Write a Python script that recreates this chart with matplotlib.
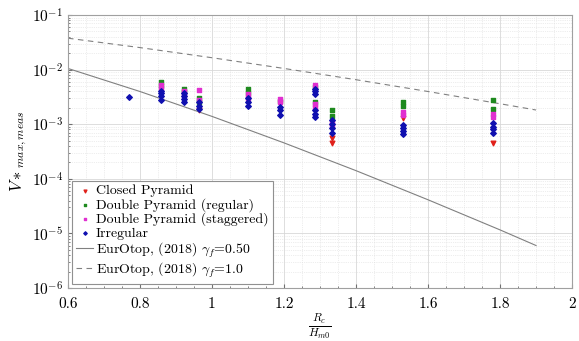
import numpy as np
import matplotlib
matplotlib.use("Agg")
import matplotlib.pyplot as plt
from matplotlib.ticker import FixedLocator, LogLocator, FuncFormatter, NullFormatter

plt.rcParams['font.family'] = 'serif'
plt.rcParams['font.serif'] = ['cmr10']
plt.rcParams['mathtext.fontset'] = 'cm'
plt.rcParams['axes.formatter.use_mathtext'] = True
plt.rcParams['axes.unicode_minus'] = False

# Measured data (Rc/Hm0, V*max,meas)
closed_x = [0.963, 1.333, 1.333, 1.53, 1.78]
closed_y = [1.8e-3, 5.6e-4, 4.6e-4, 1.3e-3, 4.6e-4]

regular_x = [0.857, 0.857, 0.923, 0.923, 0.963, 0.963, 1.1, 1.1, 1.19,
             1.286, 1.286, 1.333, 1.333, 1.53, 1.53, 1.78, 1.78]
regular_y = [6.0e-3, 5.0e-3, 4.5e-3, 3.9e-3, 3.0e-3, 2.6e-3, 4.5e-3, 3.8e-3, 2.7e-3,
             4.8e-3, 2.5e-3, 1.8e-3, 1.4e-3, 2.6e-3, 2.2e-3, 2.75e-3, 1.9e-3]

staggered_x = [0.857, 0.857, 0.923, 0.923, 0.963, 0.963, 1.1, 1.1, 1.19, 1.19,
               1.286, 1.286, 1.286, 1.333, 1.333, 1.53, 1.53, 1.78, 1.78]
staggered_y = [5.3e-3, 4.5e-3, 4.0e-3, 3.4e-3, 4.3e-3, 2.8e-3, 3.5e-3, 3.0e-3, 2.9e-3, 2.5e-3,
               5.2e-3, 2.3e-3, 2.1e-3, 1.1e-3, 9.5e-4, 1.7e-3, 1.5e-3, 1.55e-3, 1.35e-3]

irregular_x = [0.77, 0.857, 0.857, 0.857, 0.857, 0.923, 0.923, 0.923, 0.923,
               0.963, 0.963, 0.963, 1.1, 1.1, 1.1, 1.19, 1.19, 1.19,
               1.286, 1.286, 1.286, 1.286, 1.286, 1.286,
               1.333, 1.333, 1.333, 1.333, 1.53, 1.53, 1.53, 1.53,
               1.78, 1.78, 1.78, 1.78]
irregular_y = [3.1e-3, 2.8e-3, 3.3e-3, 3.7e-3, 4.1e-3, 2.5e-3, 2.9e-3, 3.3e-3, 3.7e-3,
               1.9e-3, 2.2e-3, 2.5e-3, 2.2e-3, 2.6e-3, 3.0e-3, 1.5e-3, 1.8e-3, 2.1e-3,
               1.35e-3, 1.55e-3, 1.8e-3, 3.5e-3, 4.0e-3, 4.5e-3,
               7.0e-4, 8.5e-4, 1.0e-3, 1.2e-3, 6.5e-4, 7.5e-4, 8.5e-4, 9.5e-4,
               7.0e-4, 8.0e-4, 9.0e-4, 1.05e-3]

# EurOtop (2018) curves
eur_x = [0.6, 0.8, 1.0, 1.2, 1.4, 1.6, 1.8, 1.9]
eur_050 = [1.05e-2, 3.97e-3, 1.39e-3, 4.55e-4, 1.41e-4, 4.13e-5, 1.16e-5, 6.0e-6]
eur_100 = [3.76e-2, 2.53e-2, 1.65e-2, 1.05e-2, 6.53e-3, 3.97e-3, 2.37e-3, 1.82e-3]

fig = plt.figure(figsize=(5.79, 3.41), dpi=100)
ax = fig.add_axes([0.1174, 0.1554, 0.8706, 0.8006])

ax.scatter(closed_x, closed_y, marker='v', s=11, color='#e0201a', label='Closed Pyramid', zorder=3)
ax.scatter(regular_x, regular_y, marker='s', s=9, color='#1f8a1f', label='Double Pyramid (regular)', zorder=3)
ax.scatter(staggered_x, staggered_y, marker='s', s=9, color='#e030d0', label='Double Pyramid (staggered)', zorder=3)
ax.scatter(irregular_x, irregular_y, marker='D', s=8, color='#1010b0', label='Irregular', zorder=4)
ax.plot(eur_x, eur_050, color='#808080', lw=0.8, label=r'EurOtop, (2018) $\gamma_f$=0.50')
ax.plot(eur_x, eur_100, color='#808080', lw=0.8, ls=(0, (5, 4)), label=r'EurOtop, (2018) $\gamma_f$=1.0')

ax.set_yscale('log')
ax.set_xlim(0.6, 2.0)
ax.set_ylim(1e-6, 1e-1)
ax.xaxis.set_major_locator(FixedLocator([0.6, 0.8, 1.0, 1.2, 1.4, 1.6, 1.8, 2.0]))
ax.xaxis.set_minor_locator(FixedLocator(np.arange(0.65, 2.0, 0.05)))
ax.xaxis.set_major_formatter(FuncFormatter(lambda v, p: f'{v:g}'))
ax.yaxis.set_major_locator(LogLocator(base=10, numticks=10))
ax.yaxis.set_minor_locator(LogLocator(base=10, subs=np.arange(2, 10), numticks=20))
ax.yaxis.set_minor_formatter(NullFormatter())

ax.grid(True, which='major', color='#d8d8d8', lw=0.6)
ax.grid(True, which='minor', color='#dcdcdc', lw=0.5, ls=':')
ax.set_axisbelow(True)
ax.tick_params(which='both', direction='in', colors='#707070', labelcolor='black', labelsize=11)
ax.tick_params(which='major', length=3)
ax.tick_params(which='minor', length=1.5)
ax.tick_params(axis='x', pad=7)
for s in ax.spines.values():
    s.set_color('#a0a0a0')
    s.set_linewidth(0.8)

ax.set_xlabel(r'$\frac{R_c}{H_{m0}}$', fontsize=12, labelpad=0)
ax.set_ylabel(r'$V*_{max,meas}$', fontsize=12, labelpad=2)

leg = ax.legend(loc='lower left', fontsize=10, scatterpoints=1, markerscale=0.6,
                handlelength=1.2, handletextpad=0.2, borderaxespad=0.3,
                labelspacing=0.05, borderpad=0.3, fancybox=False, framealpha=1)
leg.get_frame().set_edgecolor('#909090')
leg.get_frame().set_linewidth(0.8)

fig.savefig('out.png', dpi=100)
